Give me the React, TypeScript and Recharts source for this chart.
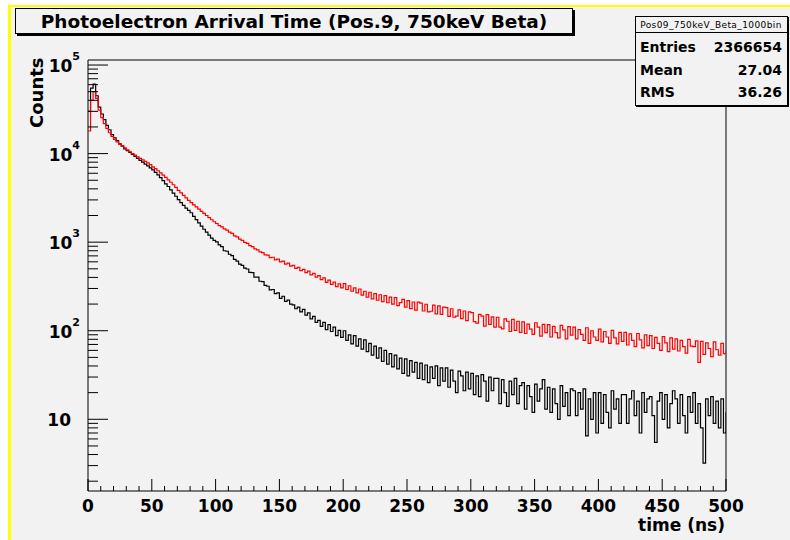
import { Line, LineChart, ReferenceArea, XAxis, YAxis } from "recharts";

// ROOT histogram, re-binned to 2 ns (counts per bin)
const BIN_WIDTH = 2;

const BLACK_COUNTS = [
  30000, 55000, 61000, 45000, 33500, 28000, 24200, 20800, 18600, 16400,
  15100, 14000, 12900, 12100, 11300, 10800, 10300, 9800, 9300, 8850,
  8400, 8000, 7600, 7250, 6900, 6550, 6150, 5750, 5350, 4950,
  4560, 4250, 3900, 3580, 3300, 3020, 2800, 2600, 2420, 2280,
  2150, 1960, 1800, 1650, 1520, 1400, 1300, 1200, 1110, 1050,
  1010, 930, 890, 800, 790, 730, 705, 640, 610, 565,
  548, 510, 498, 455, 452, 404, 402, 362, 358, 325,
  318, 290, 292, 262, 268, 232, 245, 214, 222, 200,
  196, 177, 185, 163, 174, 150, 159, 136, 145, 124,
  131, 112, 124, 103, 117, 98, 110, 88, 101, 84,
  100, 78, 90, 71, 88, 67, 81, 62, 79, 58,
  72, 53, 67, 49, 64, 45, 60, 42, 55, 39,
  53, 37, 49, 33, 48, 31, 46, 34, 44, 29,
  43, 28, 41, 26, 39, 29, 40, 24, 38, 27,
  38, 23, 36, 27, 20, 35, 31, 21, 34, 22,
  33, 19, 31, 18, 32, 27, 16, 30, 21, 29,
  29, 15, 28, 20, 14, 27, 19, 29, 15, 24,
  26, 13, 24, 18, 12, 25, 16, 22, 28, 13,
  23, 12, 22, 15, 10, 24, 14, 20, 11, 22,
  21, 11, 20, 13, 22, 6.5, 17, 10, 20, 7,
  20, 9, 19, 12, 8, 21, 13, 17, 9, 19,
  19, 9, 17, 21, 11, 16, 7, 20, 12, 17,
  18, 11, 5.5, 16, 20, 10, 19, 8, 15, 21,
  17, 9, 19, 11, 7, 18, 12, 20, 9, 15,
  8, 3.2, 17, 11, 18, 9, 16, 8, 17, 7,
  12,
];

const RED_COUNTS = [
  18000, 40000, 50000, 42000, 31000, 25500, 21800, 19200, 17200, 15600,
  14500, 13600, 12800, 12300, 11600, 11000, 10500, 10000, 9600, 9200,
  8850, 8500, 8150, 7850, 7500, 7100, 6750, 6400, 6050, 5700,
  5400, 5050, 4750, 4450, 4150, 3850, 3600, 3380, 3160, 2960,
  2800, 2640, 2500, 2360, 2230, 2110, 2000, 1890, 1790, 1700,
  1625, 1540, 1490, 1410, 1370, 1295, 1260, 1180, 1150, 1085,
  1045, 995, 968, 912, 890, 842, 820, 778, 760, 720,
  715, 668, 676, 630, 645, 598, 612, 566, 580, 536,
  548, 505, 520, 478, 494, 452, 470, 428, 444, 404,
  420, 378, 396, 352, 372, 333, 354, 315, 338, 305,
  340, 292, 322, 279, 304, 267, 296, 252, 279, 239,
  272, 229, 263, 221, 255, 213, 249, 207, 239, 200,
  236, 192, 208, 226, 185, 219, 178, 211, 171, 210,
  205, 167, 199, 163, 166, 195, 155, 191, 153, 185,
  182, 145, 177, 142, 146, 172, 137, 167, 130, 163,
  160, 127, 122, 153, 146, 113, 152, 118, 143, 110,
  142, 110, 105, 136, 128, 98, 134, 101, 128, 96,
  126, 93, 119, 104, 91, 123, 110, 87, 118, 95,
  117, 85, 112, 95, 83, 115, 102, 81, 111, 89,
  110, 81, 103, 91, 78, 108, 72, 100, 85, 78,
  104, 75, 98, 85, 72, 101, 83, 71, 96, 76,
  96, 69, 92, 78, 66, 93, 79, 64, 90, 68,
  88, 63, 84, 72, 60, 86, 73, 58, 83, 62,
  81, 59, 78, 66, 56, 80, 67, 66, 77, 44,
  76, 54, 73, 63, 51, 75, 61, 53, 72, 55,
  60,
];

const X_TICKS = [
  0, 10, 20, 30, 40, 50, 60, 70, 80, 90, 100, 110, 120, 130, 140, 150, 160,
  170, 180, 190, 200, 210, 220, 230, 240, 250, 260, 270, 280, 290, 300, 310,
  320, 330, 340, 350, 360, 370, 380, 390, 400, 410, 420, 430, 440, 450, 460,
  470, 480, 490, 500,
];
const X_LABELS = [0, 50, 100, 150, 200, 250, 300, 350, 400, 450, 500];

const Y_TICKS = [
  2, 3, 4, 5, 6, 7, 8, 9, 10, 20, 30, 40, 50, 60, 70, 80, 90, 100, 200, 300,
  400, 500, 600, 700, 800, 900, 1000, 2000, 3000, 4000, 5000, 6000, 7000, 8000,
  9000, 10000, 20000, 30000, 40000, 50000, 60000, 70000, 80000, 90000, 100000,
];
const Y_MIN = 1.55;
const Y_MAX = 114000;

const STATS = [
  { name: "Entries", value: "2366654" },
  { name: "Mean", value: "27.04" },
  { name: "RMS", value: "36.26" },
];

const data = BLACK_COUNTS.map((b, i) => ({
  t: i * BIN_WIDTH,
  black: b,
  red: RED_COUNTS[i],
}));

const FONT = "'DejaVu Sans', sans-serif";

function XTick(props: any) {
  const { x, y, payload } = props;
  const v = payload.value as number;
  const major = X_LABELS.includes(v);
  return (
    <g>
      <line x1={x} x2={x} y1={y} y2={y - (major ? 12 : 5)} stroke="#000" />
      {major && (
        <text x={x} y={y + 21} textAnchor="middle" fontFamily={FONT} fontWeight="bold" fontSize={17} fill="#000">
          {v}
        </text>
      )}
    </g>
  );
}

function YTick(props: any) {
  const { x, y, payload } = props;
  const v = payload.value as number;
  const exp = Math.round(Math.log10(v));
  const major = Math.abs(Math.pow(10, exp) - v) < 1e-6;
  return (
    <g>
      <line x1={x} x2={x + (major ? 20 : 10)} y1={y} y2={y} stroke="#000" />
      {major && exp === 1 && (
        <text x={x - 17} y={y + 7} textAnchor="end" fontFamily={FONT} fontWeight="bold" fontSize={17} fill="#000">
          10
        </text>
      )}
      {major && exp > 1 && (
        <text x={x - 8} y={y + 7} textAnchor="end" fontFamily={FONT} fontWeight="bold" fontSize={17} fill="#000">
          10
          <tspan dy={-12} fontSize={11}>
            {exp}
          </tspan>
        </text>
      )}
    </g>
  );
}

export default function App() {
  return (
    <div style={{ position: "absolute", left: 0, top: 0, width: 790, height: 540, background: "#fff", overflow: "hidden" }}>
      <div
        style={{
          position: "absolute",
          left: 8,
          top: 5,
          width: 790,
          height: 540,
          background: "#f2f2f2",
          borderTop: "2px solid #ffff00",
          borderLeft: "3px solid #ffff00",
        }}
      />
      <div style={{ position: "absolute", left: 0, top: 0 }}>
        <LineChart width={790} height={540} data={data} margin={{ top: 60, right: 64, bottom: 19, left: 28 }}>
          <XAxis
            type="number"
            dataKey="t"
            domain={[0, 500]}
            ticks={X_TICKS}
            interval={0}
            tickSize={0}
            tickMargin={0}
            axisLine={false}
            tickLine={false}
            tick={(p: any) => <XTick {...p} />}
            height={30}
            allowDataOverflow
          />
          <YAxis
            type="number"
            scale="log"
            domain={[Y_MIN, Y_MAX]}
            ticks={Y_TICKS}
            interval={0}
            tickSize={0}
            tickMargin={0}
            axisLine={false}
            tickLine={false}
            tick={(p: any) => <YTick {...p} />}
            width={60}
            allowDataOverflow
          />
          <ReferenceArea x1={0} x2={500} y1={Y_MIN} y2={Y_MAX} fill="none" stroke="#000" strokeWidth={1} ifOverflow="visible" />
          <Line dataKey="black" type="stepAfter" stroke="#000" strokeWidth={1.2} dot={false} isAnimationActive={false} />
          <Line dataKey="red" type="stepAfter" stroke="#ff0000" strokeWidth={1.2} dot={false} isAnimationActive={false} />
        </LineChart>
      </div>
      <svg width={790} height={540} style={{ position: "absolute", left: 0, top: 0, pointerEvents: "none" }}>
        {/* title box */}
        <rect x={17} y={10} width={558} height={26} fill="#000" />
        <rect x={15.5} y={8.5} width={557} height={25} fill="#f2f2f2" stroke="#000" />
        <text x={294} y={28} textAnchor="middle" fontFamily={FONT} fontWeight="bold" fontSize={18.5} fill="#000">
          Photoelectron Arrival Time (Pos.9, 750keV Beta)
        </text>
        {/* stats box */}
        <rect x={636} y={17} width={153} height={90} fill="#000" />
        <rect x={635.5} y={16.5} width={152} height={89} fill="#f2f2f2" stroke="#000" />
        <line x1={635.5} x2={787.5} y1={32.5} y2={32.5} stroke="#000" />
        <text x={711} y={28} textAnchor="middle" fontFamily={FONT} fontSize={9} letterSpacing={0.4} fill="#000">
          Pos09_750keV_Beta_1000bin
        </text>
        {STATS.map((s, i) => (
          <g key={s.name}>
            <text x={640} y={52 + i * 22.5} fontFamily={FONT} fontWeight="bold" fontSize={14} fill="#000">
              {s.name}
            </text>
            <text x={782} y={52 + i * 22.5} textAnchor="end" fontFamily={FONT} fontWeight="bold" fontSize={14} fill="#000">
              {s.value}
            </text>
          </g>
        ))}
        {/* axis titles */}
        <text x={725} y={531} textAnchor="end" fontFamily={FONT} fontWeight="bold" fontSize={17} fill="#000">
          time (ns)
        </text>
        <text
          transform="translate(43,128) rotate(-90)"
          x={0}
          y={0}
          textAnchor="start"
          fontFamily={FONT}
          fontWeight="bold"
          fontSize={18}
          fill="#000"
        >
          Counts
        </text>
      </svg>
    </div>
  );
}
